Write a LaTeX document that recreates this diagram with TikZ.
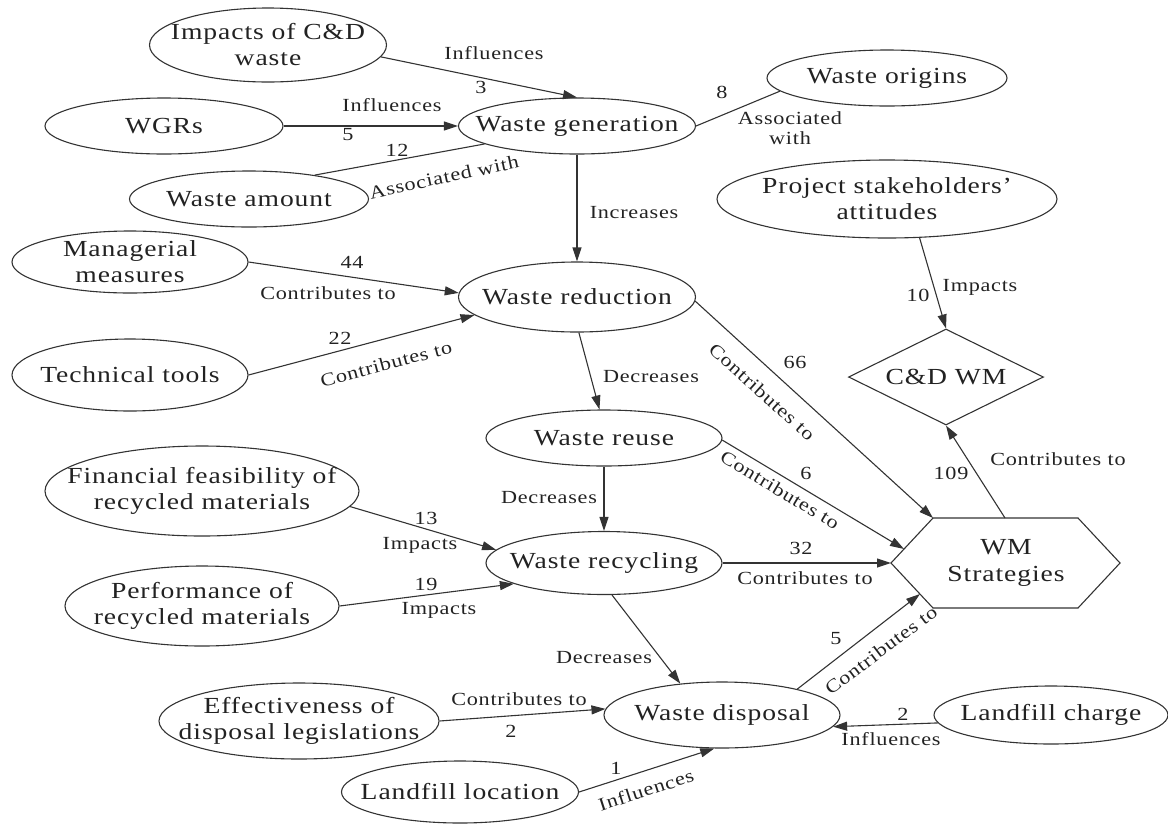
\documentclass[tikz,border=0pt]{standalone}
\usepackage{fontspec}
\setmainfont{Liberation Serif}[FakeStretch=1.2, LetterSpace=4]
\usetikzlibrary{arrows.meta,shapes.geometric}
\definecolor{ink}{HTML}{333333}
\definecolor{txt}{HTML}{222222}
\begin{document}
\begin{tikzpicture}[x=1pt,y=-1pt,
  box/.style={ellipse, draw=ink, line width=1.1pt, inner xsep=-70pt, inner ysep=-30pt,
    align=center, font=\fontsize{23}{26}\selectfont, text=txt},
  dia/.style={diamond, draw=ink, line width=1.1pt, inner sep=0pt, aspect=2,
    font=\fontsize{23}{26}\selectfont, text=txt},
  lbl/.style={font=\fontsize{18.5}{20.5}\selectfont, text=txt, inner sep=0pt, align=center},
  con/.style={draw=ink, line width=1.1pt},
  arr/.style={con, -{Triangle[length=14pt,width=9pt]}},
]
\useasboundingbox (0,0) rectangle (1168,823);

% nodes
\node[box, minimum width=237pt, minimum height=74pt] (imp) at (268,45) {Impacts of C\&D\\waste};
\node[box, minimum width=238pt, minimum height=56pt] (wgrs) at (164,126) {WGRs};
\node[box, minimum width=239pt, minimum height=56pt] (amt) at (249,199) {Waste amount};
\node[box, minimum width=237pt, minimum height=56pt] (wg) at (577,126) {Waste generation};
\node[box, minimum width=240pt, minimum height=56pt] (orig) at (887,78) {Waste origins};
\node[box, minimum width=340pt, minimum height=78pt] (pso) at (887,199) {Project stakeholders’\\attitudes};
\node[box, minimum width=236pt, minimum height=62pt] (mgr) at (130,262) {Managerial\\measures};
\node[box, minimum width=236pt, minimum height=72pt] (tech) at (130,375) {Technical tools};
\node[box, minimum width=237pt, minimum height=70pt] (red) at (577,297) {Waste reduction};
\node[dia, minimum width=195pt, minimum height=96pt] (cdw) at (946,377) {C\&D WM};
\node[box, minimum width=236pt, minimum height=56pt] (reuse) at (604,438) {Waste reuse};
\node[box, minimum width=314pt, minimum height=90pt] (fin) at (202,491) {Financial feasibility of\\recycled materials};
\node[box, minimum width=236pt, minimum height=63pt] (rec) at (604,563) {Waste recycling};
\node[box, minimum width=274pt, minimum height=80pt] (perf) at (202,606) {Performance of\\recycled materials};
\node[box, minimum width=280pt, minimum height=76pt] (eff) at (299,721) {Effectiveness of\\disposal legislations};
\node[box, minimum width=236pt, minimum height=66pt] (disp) at (722,715) {Waste disposal};
\node[box, minimum width=234pt, minimum height=58pt] (lch) at (1051,715) {Landfill charge};
\node[box, minimum width=237pt, minimum height=62pt] (lloc) at (460,792) {Landfill location};

% WM Strategies hexagon
\coordinate (h1) at (891,563);
\coordinate (h2) at (933,518);
\coordinate (h3) at (1078,518);
\coordinate (h4) at (1120,563);
\coordinate (h5) at (1078,608);
\coordinate (h6) at (933,608);
\coordinate (wmsTop) at (1005,518);
\coordinate (wmsA) at (904,549);
\coordinate (wmsB) at (920,594);
\draw[con] (h1) -- (h2) -- (h3) -- (h4) -- (h5) -- (h6) -- cycle;
\node[align=center, inner sep=0pt, font=\fontsize{23}{27}\selectfont, text=txt] (wms) at (1006,563) {WM\\Strategies};

% connectors
\draw[arr] (imp.-6) -- (wg.north);
\draw[arr] (wgrs.east) -- (wg.west);
\draw[con] (amt.20) -- (wg.191);
\draw[con] (wg.east) -- (orig.187);
\draw[arr] (wg.south) -- (red.north);
\draw[arr] (mgr.east) -- (red.178);
\draw[arr] (tech.east) -- (red.190);
\draw[arr] (red.-87) -- (reuse.99);
\draw[arr] (red.-2) -- (h2);
\draw[arr] (pso.-50) -- (cdw.north);
\draw[arr] (wmsTop) -- (cdw.south);
\draw[arr] (reuse.-1) -- (wmsA);
\draw[arr] (reuse.south) -- (rec.north);
\draw[arr] (fin.-6) -- (rec.173);
\draw[arr] (perf.east) -- (rec.193);
\draw[arr] (rec.east) -- (h1);
\draw[arr] (rec.-76) -- (disp.143);
\draw[arr] (eff.east) -- (disp.177);
\draw[arr] (lloc.east) -- (disp.-103);
\draw[arr] (disp.19) -- (wmsB);
\draw[arr] (lch.184) -- (disp.-6);

% labels
\node[lbl] (l1a) at (494,53) {Influences};
\node[lbl] (l1b) at (481,87) {3};
\node[lbl] (l2a) at (392,105) {Influences};
\node[lbl] (l2b) at (348,135) {5};
\node[lbl] (l3a) at (397,150) {12};
\node[lbl, rotate=12] (l3b) at (444,177) {Associated with};
\node[lbl] (l4a) at (722,92) {8};
\node[lbl] (l4b) at (790,128) {Associated\\with};
\node[lbl] (l5) at (634,213) {Increases};
\node[lbl] (l6a) at (352,262) {44};
\node[lbl] (l6b) at (328,293) {Contributes to};
\node[lbl] (l7a) at (340,338) {22};
\node[lbl, rotate=15] (l7b) at (386,364) {Contributes to};
\node[lbl] (l8) at (651,377) {Decreases};
\node[lbl] (l9a) at (980,287) {Impacts};
\node[lbl] (l9b) at (918,295) {10};
\node[lbl] (l10a) at (795,362) {66};
\node[lbl, rotate=-42] (l10b) at (762,392) {Contributes to};
\node[lbl] (l11a) at (806,473) {6};
\node[lbl, rotate=-31] (l11b) at (780,490) {Contributes to};
\node[lbl] (l12) at (549,498) {Decreases};
\node[lbl] (l13a) at (426,518) {13};
\node[lbl] (l13b) at (420,545) {Impacts};
\node[lbl] (l14a) at (426,584) {19};
\node[lbl] (l14b) at (439,610) {Impacts};
\node[lbl] (l15a) at (801,548) {32};
\node[lbl] (l15b) at (805,578) {Contributes to};
\node[lbl] (l16a) at (951,473) {109};
\node[lbl] (l16b) at (1058,459) {Contributes to};
\node[lbl] (l17) at (604,658) {Decreases};
\node[lbl] (l18a) at (836,639) {5};
\node[lbl, rotate=37] (l18b) at (881,650) {Contributes to};
\node[lbl] (l19a) at (519,699) {Contributes to};
\node[lbl] (l19b) at (511,731) {2};
\node[lbl] (l20a) at (616,768) {1};
\node[lbl, rotate=18] (l20b) at (646,790) {Influences};
\node[lbl] (l21a) at (903,714) {2};
\node[lbl] (l21b) at (891,739) {Influences};
\end{tikzpicture}
\end{document}
